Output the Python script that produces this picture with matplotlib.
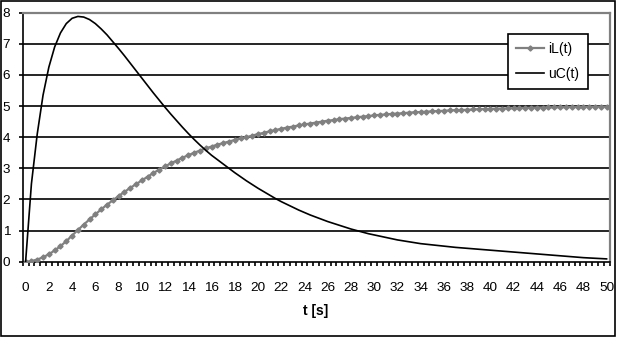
import matplotlib
matplotlib.use("Agg")
import matplotlib.pyplot as plt
from matplotlib.patches import Rectangle

# ---- data -------------------------------------------------------------
t_values = [i * 0.5 for i in range(101)]  # categories 0, 0.5, ..., 50

iL = [0.00, 0.02, 0.07, 0.14, 0.24, 0.36, 0.50, 0.66, 0.84, 1.02,
      1.19, 1.36, 1.52, 1.68, 1.83, 1.97, 2.11, 2.24, 2.37, 2.49,
      2.61, 2.73, 2.85, 2.96, 3.06, 3.16, 3.25, 3.34, 3.42, 3.50,
      3.57, 3.64, 3.70, 3.76, 3.81, 3.86, 3.91, 3.96, 4.00, 4.05,
      4.10, 4.14, 4.19, 4.23, 4.27, 4.31, 4.34, 4.38, 4.41, 4.44,
      4.47, 4.50, 4.53, 4.55, 4.58, 4.60, 4.62, 4.64, 4.66, 4.68,
      4.70, 4.72, 4.73, 4.75, 4.76, 4.77, 4.79, 4.80, 4.81, 4.82,
      4.83, 4.84, 4.85, 4.86, 4.87, 4.875, 4.88, 4.89, 4.90, 4.905,
      4.91, 4.915, 4.92, 4.925, 4.93, 4.935, 4.94, 4.945, 4.95, 4.953,
      4.956, 4.96, 4.963, 4.966, 4.969, 4.972, 4.974, 4.976, 4.978, 4.98,
      4.982]

uC = [0.00, 2.50, 4.10, 5.35, 6.25, 6.90, 7.35, 7.65, 7.82, 7.88,
      7.86, 7.78, 7.65, 7.48, 7.29, 7.07, 6.85, 6.62, 6.38, 6.14,
      5.90, 5.66, 5.42, 5.19, 4.96, 4.74, 4.53, 4.32, 4.12, 3.93,
      3.75, 3.58, 3.42, 3.28, 3.14, 3.00, 2.86, 2.73, 2.60, 2.48,
      2.36, 2.25, 2.14, 2.03, 1.93, 1.84, 1.75, 1.66, 1.58, 1.50,
      1.43, 1.36, 1.29, 1.23, 1.17, 1.11, 1.05, 1.00, 0.95, 0.90,
      0.86, 0.82, 0.78, 0.74, 0.70, 0.67, 0.64, 0.61, 0.58, 0.56,
      0.54, 0.52, 0.50, 0.48, 0.46, 0.445, 0.43, 0.415, 0.40, 0.385,
      0.37, 0.355, 0.34, 0.325, 0.31, 0.295, 0.28, 0.265, 0.25, 0.235,
      0.22, 0.205, 0.19, 0.175, 0.16, 0.145, 0.13, 0.12, 0.11, 0.10,
      0.09]

x_tick_values = list(range(0, 51, 2))
x_tick_labels = [str(v) for v in x_tick_values]
y_tick_values = list(range(0, 9))
series_names = ["iL(t)", "uC(t)"]
x_label = "t [s]"

# ---- figure -----------------------------------------------------------
plt.rcParams['font.family'] = ['Liberation Sans', 'DejaVu Sans']
W, H = 617, 337
fig = plt.figure(figsize=(W / 100, H / 100), dpi=100)
L, R, T, B = 22.7, 609.5, 12.7, 261.7
ax = fig.add_axes([L / W, 1 - B / H, (R - L) / W, (B - T) / H])

ax.set_xlim(-0.25, 50.25)
ax.set_ylim(0, 8)

# gridlines
for yv in y_tick_values[1:-1]:
    ax.axhline(yv, color='black', lw=1.2, zorder=1)

ax.plot(t_values, iL, color='#808080', lw=1.6, marker='D', ms=2.6,
        mec='#808080', mfc='#808080', label=series_names[0], zorder=3)
ax.plot(t_values, uC, color='black', lw=1.2, label=series_names[1], zorder=4)

# spines
ax.spines['left'].set_color('black')
ax.spines['bottom'].set_color('black')
ax.spines['left'].set_linewidth(1.2)
ax.spines['bottom'].set_linewidth(1.2)
ax.spines['top'].set_color('#808080')
ax.spines['right'].set_color('#808080')
ax.spines['top'].set_linewidth(1.6)
ax.spines['right'].set_linewidth(1.6)

# ticks
ax.set_yticks(y_tick_values)
ax.set_yticklabels([str(v) for v in y_tick_values])
ax.tick_params(axis='y', direction='out', length=3, width=1.2, pad=6,
               labelsize=9.7, colors='black')
ax.set_xticks(x_tick_values)
ax.set_xticklabels(x_tick_labels)
ax.set_xticks([-0.25 + 0.5 * k for k in range(102)], minor=True)
ax.tick_params(axis='x', which='major', length=0, pad=14.5, labelsize=9.7)
ax.tick_params(axis='x', which='minor', direction='out', length=3, width=1.2)

fig.text(((L + R) / 2) / W, 1 - 311 / H, x_label, ha='center', va='center',
         fontsize=10, fontweight='bold')

leg = ax.legend(loc='upper left', bbox_to_anchor=((508 - L) / (R - L), (B - 34) / (B - T)),
                frameon=True, fancybox=False, shadow=False, framealpha=1,
                edgecolor='black', fontsize=10, handlelength=2.0,
                borderpad=0.6, labelspacing=0.75, handletextpad=0.3,
                borderaxespad=0)
leg.get_frame().set_linewidth(1.2)
leg.set_zorder(10)

# outer chart border
fig.patches.append(Rectangle((0.5 / W, 1.5 / H), (W - 3) / W, (H - 2.5) / H,
                             transform=fig.transFigure, fill=False,
                             edgecolor='black', lw=1.2))

fig.savefig('out.png', dpi=100)
